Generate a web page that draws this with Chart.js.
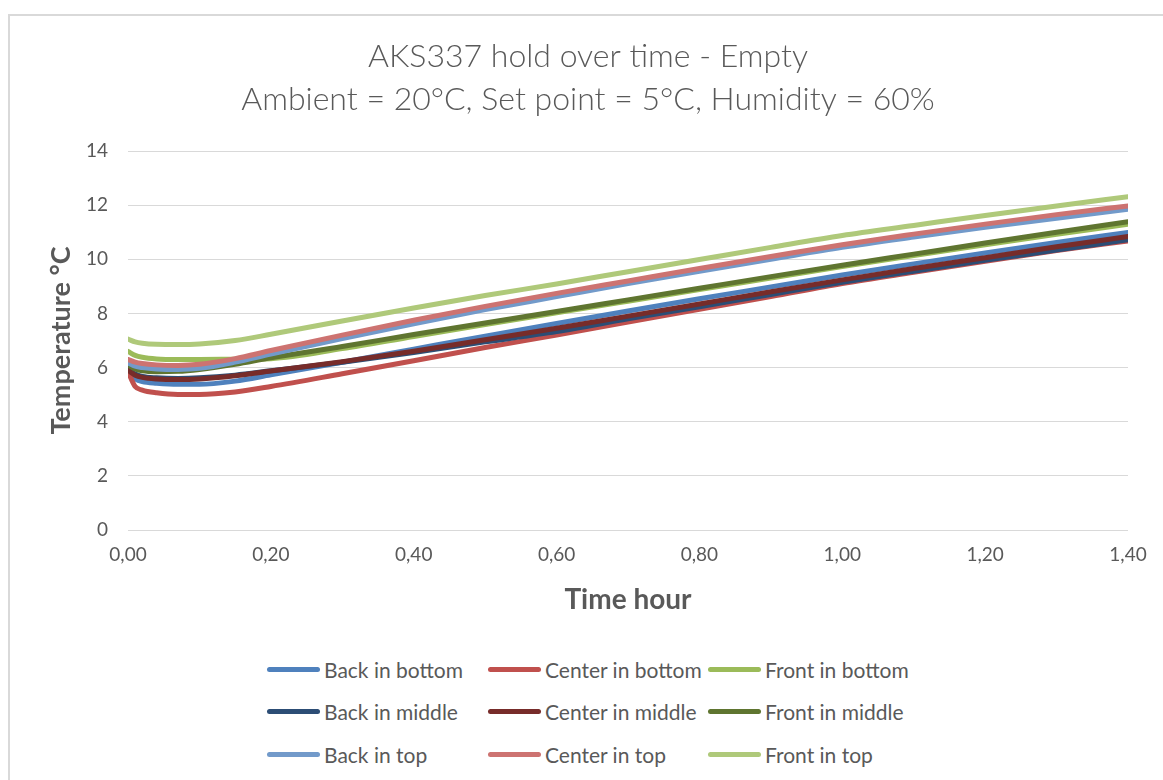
<!DOCTYPE html>
<html>
<head>
<meta charset="utf-8">
<title>AKS337 hold over time - Empty</title>
<script src="https://cdn.jsdelivr.net/npm/chart.js@4.4.1/dist/chart.umd.min.js"></script>
<style>
    html, body { margin: 0; padding: 0; background: #fff; }
    body { width: 1163px; height: 780px; position: relative; overflow: hidden; font-family: Lato, 'Open Sans', sans-serif; }
    #frame { position: absolute; left: 8px; top: 14px; width: 1200px; height: 800px; border-left: 2px solid #d9d9d9; border-top: 2px solid #d9d9d9; }
    #chartBox { position: absolute; left: 48px; top: 0; width: 1115px; height: 640px; }
    #legend { position: absolute; left: 267px; top: 648px; display: grid; grid-template-columns: 221px 220px 220px; grid-auto-rows: 42.5px; }
    .legend-item { display: flex; align-items: center; color: #595959; font-size: 21px; white-space: nowrap; }
    .legend-line { width: 53px; height: 5px; border-radius: 3px; margin-right: 4px; flex: none; }
</style>
</head>
<body>
<div id="frame"></div>
<div id="chartBox"><canvas id="holdChart"></canvas></div>
<div id="legend"></div>

<script>
// Chart data
const titleLines = ['AKS337 hold over time - Empty', 'Ambient = 20°C, Set point = 5°C, Humidity = 60%'];
const xTitle = 'Time hour';
const yTitle = 'Temperature °C';
const xTickLabels = ['0,00', '0,20', '0,40', '0,60', '0,80', '1,00', '1,20', '1,40'];
const yTickLabels = ['0', '2', '4', '6', '8', '10', '12', '14'];

const timeHours = [0, 0.01, 0.02, 0.04, 0.07, 0.1, 0.15, 0.2, 0.3, 0.4, 0.5, 0.6, 0.7, 0.8, 0.9, 1.0, 1.1, 1.2, 1.3, 1.4];

const backBottom   = [5.8, 5.58, 5.48, 5.42, 5.38, 5.38, 5.5, 5.73, 6.2, 6.68, 7.16, 7.63, 8.09, 8.54, 8.98, 9.42, 9.83, 10.23, 10.62, 10.99];
const centerBottom = [5.85, 5.3, 5.17, 5.07, 5.01, 5.01, 5.1, 5.3, 5.77, 6.25, 6.74, 7.2, 7.68, 8.15, 8.62, 9.1, 9.52, 9.93, 10.32, 10.68];
const frontBottom  = [6.6, 6.45, 6.38, 6.32, 6.3, 6.3, 6.31, 6.33, 6.7, 7.15, 7.59, 8.02, 8.45, 8.88, 9.31, 9.73, 10.14, 10.54, 10.92, 11.3];
const backMiddle   = [5.95, 5.76, 5.67, 5.62, 5.6, 5.62, 5.72, 5.88, 6.2, 6.56, 6.95, 7.33, 7.8, 8.25, 8.7, 9.15, 9.56, 9.96, 10.34, 10.72];
const centerMiddle = [5.9, 5.72, 5.64, 5.58, 5.56, 5.58, 5.7, 5.87, 6.22, 6.6, 7.03, 7.45, 7.9, 8.35, 8.8, 9.24, 9.66, 10.06, 10.46, 10.84];
const frontMiddle  = [6.1, 5.95, 5.88, 5.85, 5.86, 5.93, 6.12, 6.36, 6.78, 7.22, 7.65, 8.07, 8.5, 8.93, 9.36, 9.78, 10.19, 10.6, 11.0, 11.39];
const backTop      = [6.17, 6.05, 6.0, 5.95, 5.93, 5.97, 6.2, 6.5, 7.07, 7.62, 8.14, 8.62, 9.1, 9.56, 10.0, 10.44, 10.82, 11.18, 11.52, 11.85];
const centerTop    = [6.3, 6.2, 6.15, 6.1, 6.08, 6.12, 6.33, 6.63, 7.2, 7.75, 8.26, 8.74, 9.2, 9.66, 10.1, 10.54, 10.93, 11.3, 11.65, 11.97];
const frontTop     = [7.05, 6.95, 6.9, 6.86, 6.85, 6.87, 7.0, 7.23, 7.72, 8.2, 8.66, 9.09, 9.54, 9.99, 10.44, 10.88, 11.25, 11.62, 11.97, 12.31];

const seriesNames = ['Back in bottom', 'Center in bottom', 'Front in bottom',
                     'Back in middle', 'Center in middle', 'Front in middle',
                     'Back in top', 'Center in top', 'Front in top'];
const seriesValues = [backBottom, centerBottom, frontBottom,
                      backMiddle, centerMiddle, frontMiddle,
                      backTop, centerTop, frontTop];
const seriesColors = ['#4f81bd', '#c0504d', '#9bbb59',
                      '#2c4d75', '#772c2a', '#5f7530',
                      '#729aca', '#cd7371', '#afc97a'];

const textColor = '#595959';
const gridColor = '#d9d9d9';

// Build datasets (later series drawn on top, like the original)
const datasets = seriesNames.map((name, i) => ({
    label: name,
    data: timeHours.map((t, j) => ({ x: t, y: seriesValues[i][j] })),
    borderColor: seriesColors[i],
    backgroundColor: seriesColors[i],
    borderWidth: 5,
    pointRadius: 0,
    cubicInterpolationMode: 'monotone',
    borderJoinStyle: 'round',
    borderCapStyle: 'round',
    order: seriesNames.length - i
}));

const ctx = document.getElementById('holdChart');
const holdChart = new Chart(ctx, {
    type: 'line',
    data: { datasets },
    options: {
        responsive: true,
        maintainAspectRatio: false,
        animation: false,
        layout: { padding: { left: 0, right: 35, top: 0, bottom: 0 } },
        plugins: {
            legend: { display: false },
            tooltip: { enabled: false },
            title: {
                display: true,
                text: titleLines,
                color: textColor,
                font: { family: 'Lato', size: 32, weight: 300, lineHeight: 1.344 },
                padding: { top: 35, bottom: 30 }
            }
        },
        scales: {
            x: {
                type: 'linear',
                min: 0,
                max: 1.4,
                ticks: {
                    stepSize: 0.2,
                    padding: 5,
                    maxRotation: 0,
                    color: textColor,
                    font: { family: 'Lato', size: 19 },
                    callback: (value, index) => xTickLabels[index]
                },
                grid: { display: false },
                border: { display: false },
                title: {
                    display: true,
                    text: xTitle,
                    color: textColor,
                    font: { family: 'Lato', size: 28, weight: 'bold' },
                    padding: { top: 10, bottom: 23 }
                },
                afterFit: scale => { scale.height = 110; }
            },
            y: {
                min: 0,
                max: 14,
                ticks: {
                    stepSize: 2,
                    padding: 20,
                    color: textColor,
                    font: { family: 'Lato', size: 19 },
                    callback: (value, index) => yTickLabels[index]
                },
                grid: { color: gridColor, lineWidth: 1, drawTicks: false },
                border: { display: false },
                title: {
                    display: true,
                    text: yTitle,
                    color: textColor,
                    font: { family: 'Lato', size: 27, weight: 'bold', lineHeight: 1.0 },
                    padding: { top: 0, bottom: 0 }
                },
                afterFit: scale => { scale.width = 80; }
            }
        }
    }
});

// HTML legend, 3 x 3 like the original
const legendBox = document.getElementById('legend');
seriesNames.forEach((name, i) => {
    const item = document.createElement('div');
    item.className = 'legend-item';
    item.innerHTML = `<span class="legend-line" style="background:${seriesColors[i]}"></span><span>${name}</span>`;
    legendBox.appendChild(item);
});
</script>
</body>
</html>
